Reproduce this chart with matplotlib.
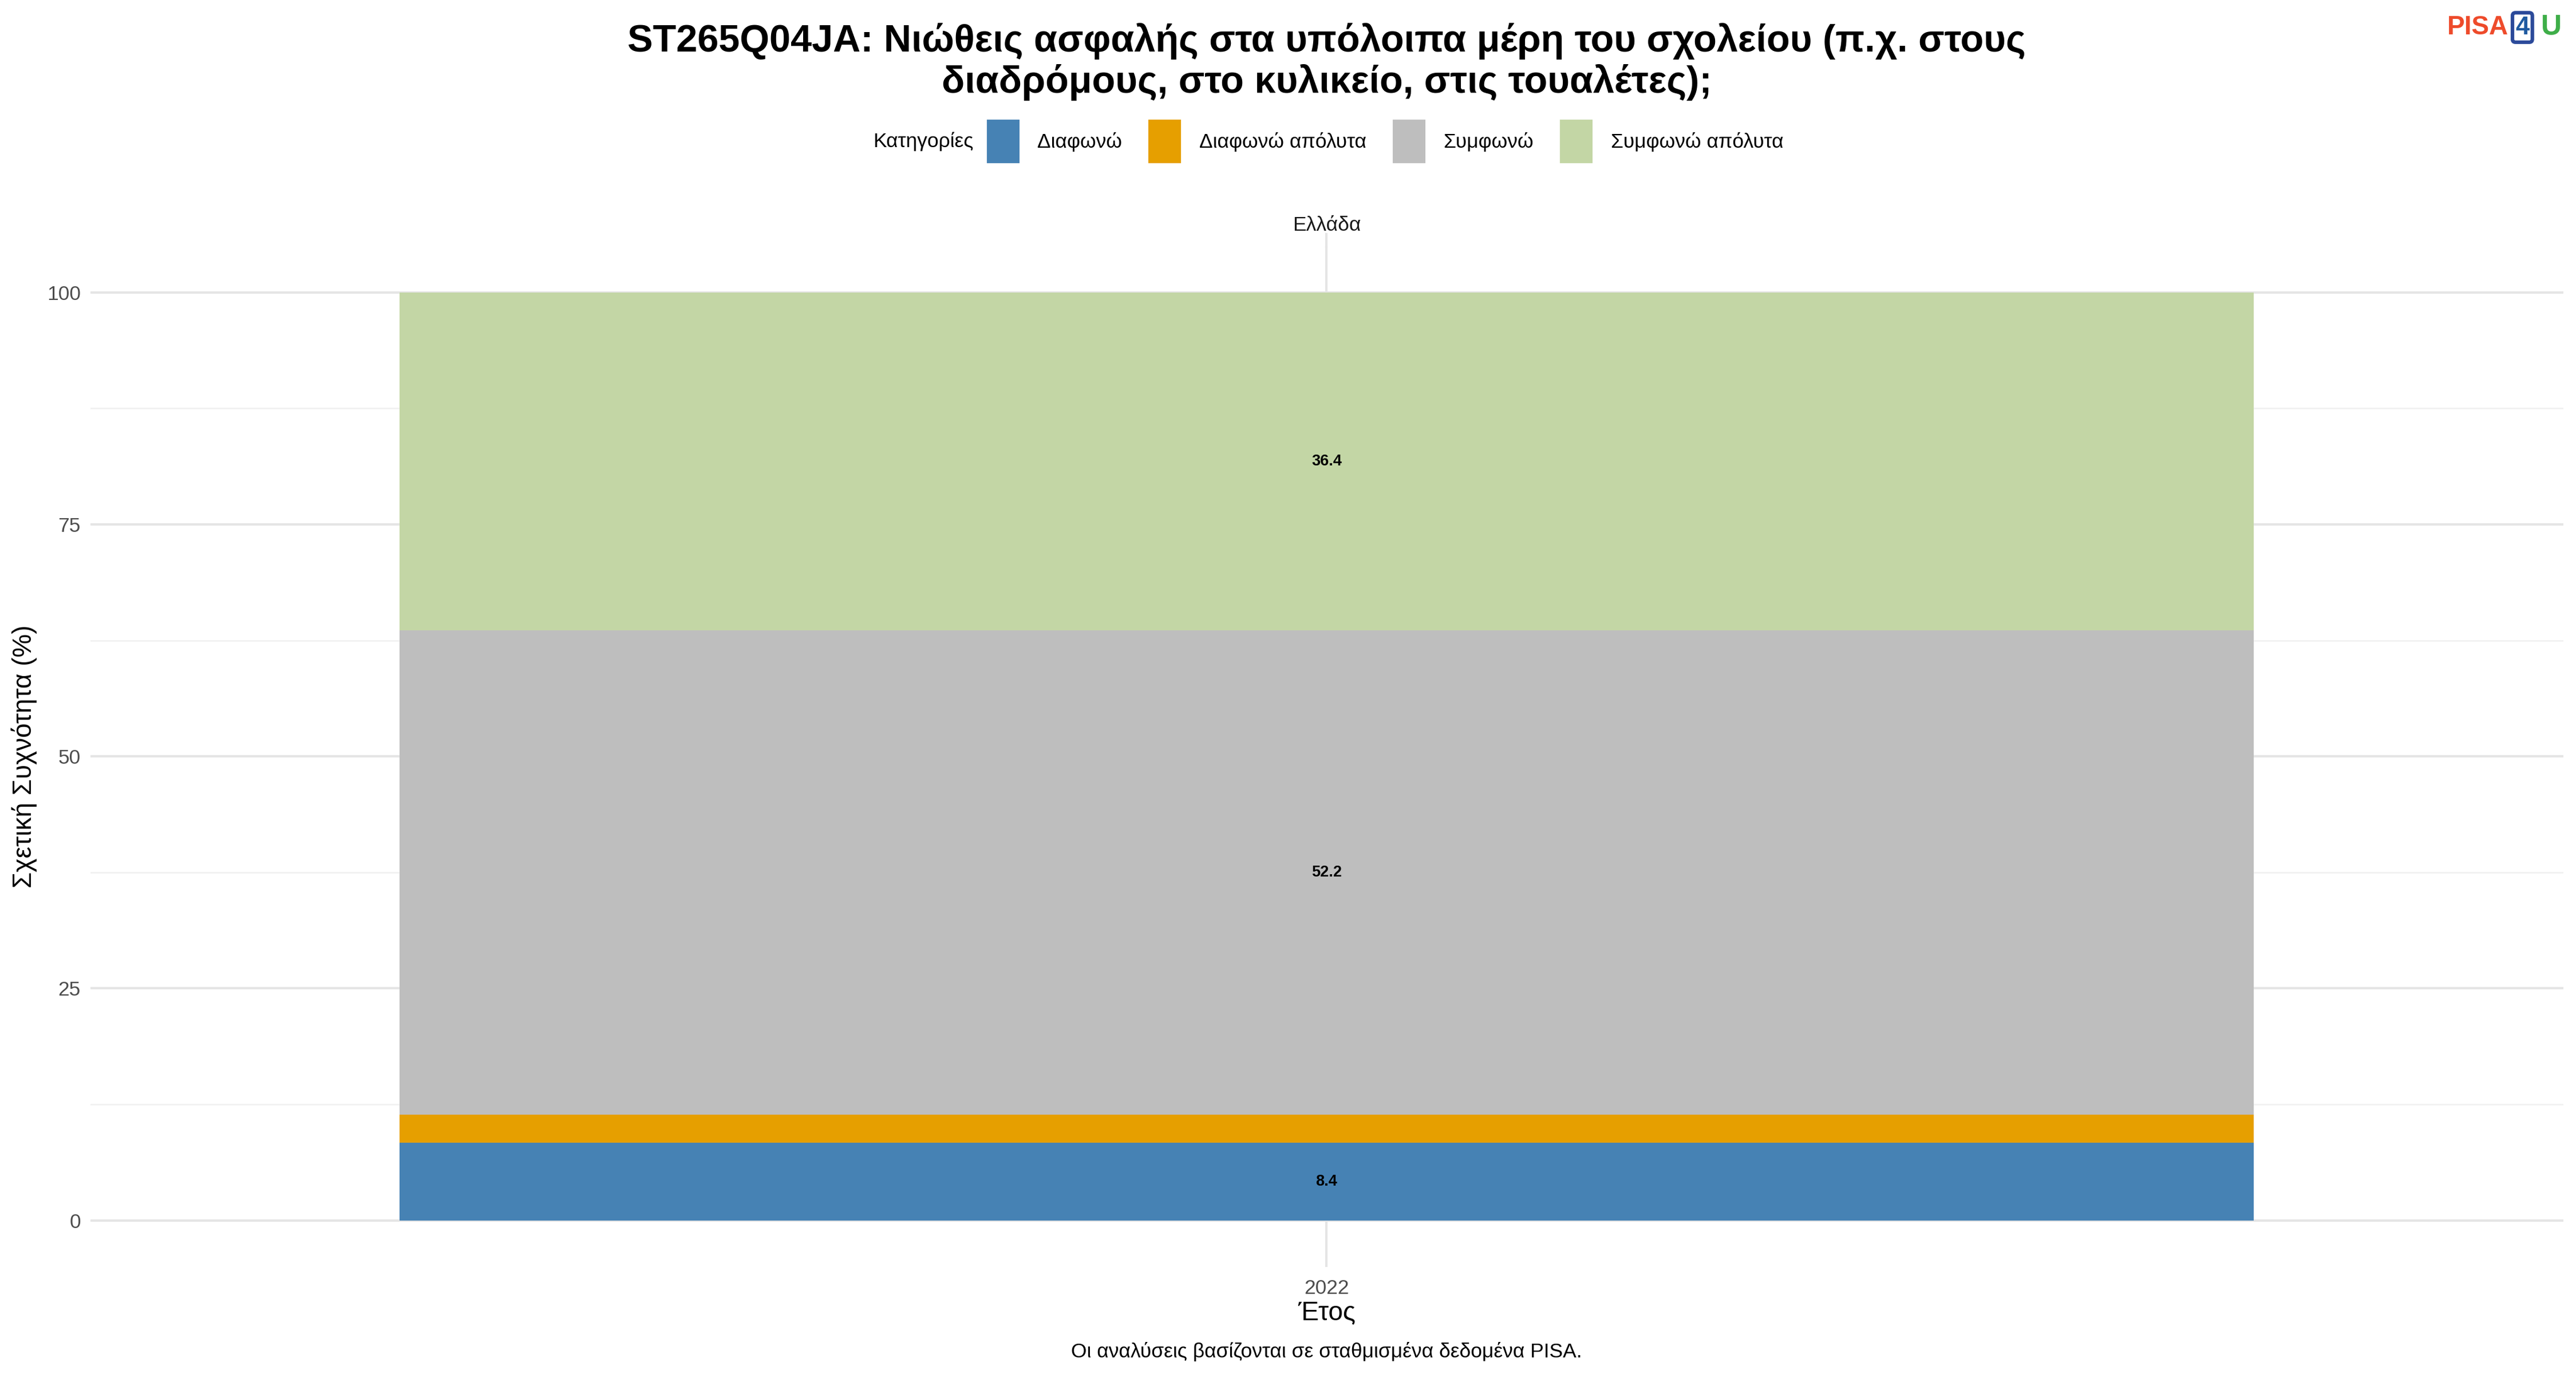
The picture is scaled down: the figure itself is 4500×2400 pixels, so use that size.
import matplotlib
matplotlib.use("Agg")
import matplotlib.pyplot as plt
from matplotlib.patches import Patch

plt.rcParams['font.family'] = ['Liberation Sans', 'DejaVu Sans']

years = ["2022"]
categories = ["Διαφωνώ", "Διαφωνώ απόλυτα", "Συμφωνώ", "Συμφωνώ απόλυτα"]
values = [8.4, 3.0, 52.2, 36.4]
labels = ["8.4", "", "52.2", "36.4"]
colors = ["#4682B4", "#E69F00", "#BEBEBE", "#C3D6A5"]

fig = plt.figure(figsize=(15, 8), dpi=300)
ax = fig.add_axes([0.035, 0.078, 0.96, 0.743])
x = [1]
bottom = 0
for v, c, l in zip(values, colors, labels):
    ax.bar(x, [v], bottom=[bottom], width=0.9, color=c, zorder=2)
    if l:
        ax.text(1, bottom + v / 2, l, ha='center', va='center', fontsize=6.5, fontweight='bold', zorder=3)
    bottom += v
ax.set_xlim(0.4, 1.6)
ax.set_ylim(-5, 105)
ax.set_xticks(x)
ax.set_xticklabels(years)
ax.set_yticks([0, 25, 50, 75, 100])
ax.set_yticks([12.5, 37.5, 62.5, 87.5], minor=True)
ax.set_yticklabels([], minor=True)
ax.grid(True, which='major', color='#E5E5E5', lw=1.0, zorder=0)
ax.grid(True, which='minor', axis='y', color='#F0F0F0', lw=0.6, zorder=0)
ax.tick_params(which='both', length=0, labelsize=8.5, colors='#4D4D4D', pad=4)
ax.tick_params(axis='x', pad=5)
for s in ax.spines.values():
    s.set_visible(False)
ax.set_ylabel("Σχετική Συχνότητα (%)", fontsize=11)
ax.set_xlabel("Έτος", fontsize=11, labelpad=1)
# strip
ax.plot([1, 1], [105, 106.3], color='#E5E5E5', lw=1.0, clip_on=False)
ax.text(1, 107.2, "Ελλάδα", ha='center', va='center', fontsize=8.5, color='#1A1A1A')

fig.text(0.515, 0.955, "ST265Q04JA: Νιώθεις ασφαλής στα υπόλοιπα μέρη του σχολείου (π.χ. στους\nδιαδρόμους, στο κυλικείο, στις τουαλέτες);",
         ha='center', va='center', fontsize=16, fontweight='bold', linespacing=1.15)

handles = [Patch(facecolor=c, edgecolor='none') for c in colors]
fig.text(0.378, 0.897, "Κατηγορίες", ha='right', va='center', fontsize=8.5)
leg = fig.legend(handles, categories, loc='center left', bbox_to_anchor=(0.376, 0.897), ncol=4,
                 frameon=False, fontsize=8.5,
                 handlelength=1.6, handleheight=2.9, columnspacing=1.3, handletextpad=0.9)

fig.text(0.515, 0.012, "Οι αναλύσεις βασίζονται σε σταθμισμένα δεδομένα PISA.", ha='center', fontsize=8.5)

# logo
fig.text(0.950, 0.98, "PISA", ha='left', va='center', fontsize=11, fontweight='bold', color='#EE4B2B')
fig.text(0.9765, 0.98, "4", ha='left', va='center', fontsize=10.5, fontweight='bold', color='#1F5AA0',
         bbox=dict(boxstyle='round,pad=0.12', fc='white', ec='#2B4A9A', lw=1.5))
fig.text(0.9865, 0.98, "U", ha='left', va='center', fontsize=12, fontweight='bold', color='#3FAE49')

fig.savefig("out.png", dpi=300, facecolor='white')
